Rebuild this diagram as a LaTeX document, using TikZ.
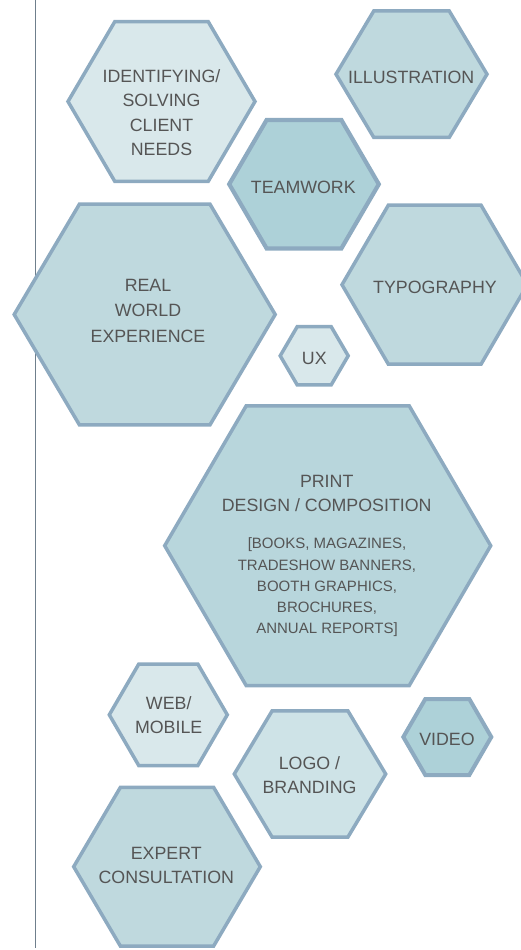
\documentclass[tikz,border=0pt]{standalone}
\usepackage{fontspec}
\setmainfont{Liberation Sans}
\definecolor{hexline}{HTML}{8DAAC0}
\definecolor{fillA}{HTML}{D9E8EB}
\definecolor{fillB}{HTML}{BFD9DE}
\definecolor{fillP}{HTML}{B8D6DC}
\definecolor{fillL}{HTML}{CEE3E7}
\definecolor{fillD}{HTML}{ADD1D8}
\definecolor{txtc}{HTML}{555555}
\definecolor{rulec}{HTML}{6F7F8C}
\newcommand\hexshape[5]{%
  \draw[hexa,fill=#5] (#1-#3,#2) -- (#1-#3/2,#2-#4) -- (#1+#3/2,#2-#4) -- (#1+#3,#2) -- (#1+#3/2,#2+#4) -- (#1-#3/2,#2+#4) -- cycle;
  \coordinate (c#1x#2) at (#1,#2);}
\tikzset{
  hexa/.style={draw=hexline,line width=3.5pt,line join=miter},
  lbl/.style={anchor=north,inner sep=0pt,align=center,text=txtc,font={\fontsize{17.8}{24.4}\selectfont}},
  small/.style={anchor=north,inner sep=0pt,align=center,text=txtc,font={\fontsize{15}{21.25}\selectfont}}
}
\begin{document}
\begin{tikzpicture}[x=1pt,y=-1pt]
\useasboundingbox (0,0) rectangle (520,950);
\draw[rulec,line width=1.2pt] (35.5,0) coordinate (ruletop) -- (35.5,948) coordinate (rulebot);
% hexagons
\hexshape{161.5}{101.5}{93.5}{79.8}{fillA}
\hexshape{411.5}{74.2}{75.5}{63.2}{fillB}
\begin{scope}[hexa/.append style={line width=4.2pt}]
\hexshape{304}{184.2}{74.8}{64.2}{fillD}
\end{scope}
\hexshape{144.7}{314.5}{130.5}{110.4}{fillB}
\hexshape{434.7}{284.7}{92.7}{79.5}{fillB}
\hexshape{314.2}{355.8}{34}{29.1}{fillA}
\hexshape{327.7}{545.7}{163}{139.9}{fillP}
\hexshape{168.3}{714.8}{59}{50.8}{fillA}
\hexshape{310}{774}{75.7}{63.2}{fillL}
\begin{scope}[hexa/.append style={line width=4pt}]
\hexshape{447.3}{737}{44}{38}{fillD}
\end{scope}
\hexshape{167}{866.7}{93.3}{79.3}{fillB}
% labels
\node[lbl] (tident) at (161.5,69.3) {IDENTIFYING/\\SOLVING\\CLIENT\\NEEDS};
\node[lbl] (tillus) at (411.2,70.9) {ILLUSTRATION};
\node[lbl] (tteam) at (303.3,180.6) {TEAMWORK};
\node[lbl,font={\fontsize{17.8}{25.8}\selectfont}] (treal) at (148,278.6) {REAL\\WORLD\\EXPERIENCE};
\node[lbl] (ttypo) at (435,280.6) {TYPOGRAPHY};
\node[lbl] (tux) at (314.3,351.6) {UX};
\node[lbl,font={\fontsize{17.8}{24}\selectfont}] (tprint) at (326.7,474.6) {PRINT\\DESIGN / COMPOSITION};
\node[small] (tprintsub) at (327,537.9) {[BOOKS, MAGAZINES,\\TRADESHOW BANNERS,\\BOOTH GRAPHICS,\\BROCHURES,\\ANNUAL REPORTS]};
\node[lbl,font={\fontsize{17.8}{24}\selectfont}] (tweb) at (168.7,696.3) {WEB/\\MOBILE};
\node[lbl,font={\fontsize{17.8}{24}\selectfont}] (tlogo) at (309.5,756.3) {LOGO /\\BRANDING};
\node[lbl] (tvideo) at (447,732.9) {VIDEO};
\node[lbl] (texpert) at (166.3,846.9) {EXPERT\\CONSULTATION};
\end{tikzpicture}
\end{document}
